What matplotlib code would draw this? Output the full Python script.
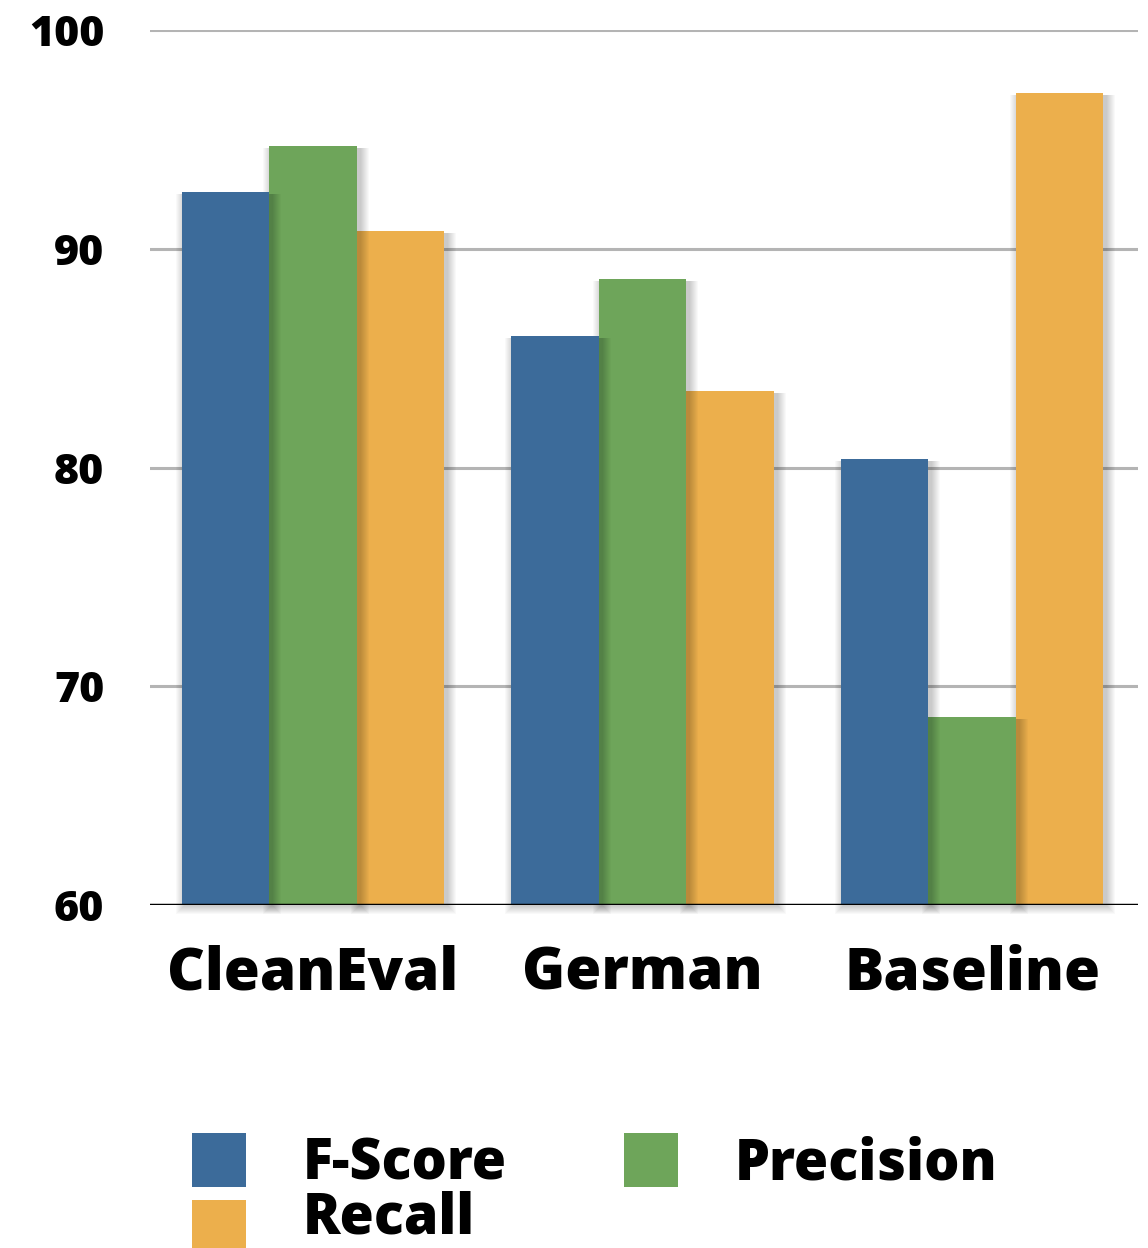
import matplotlib
matplotlib.use("Agg")
import matplotlib.pyplot as plt
from matplotlib.patches import Rectangle
import matplotlib.transforms as mtransforms
import numpy as np

categories = ["CleanEval", "German", "Baseline"]
series_names = ["F-Score", "Precision", "Recall"]
f_score = [92.6, 86.0, 80.4]
precision = [94.7, 88.6, 68.6]
recall = [90.8, 83.5, 97.1]
y_ticks = [60, 70, 80, 90, 100]

colors = ["#3c6b9a", "#6ea55a", "#ecaf4c"]
FONT = ["Open Sans", "DejaVu Sans"]

W, H = 1148, 1248
fig = plt.figure(figsize=(W / 100, H / 100), dpi=100)
ax = fig.add_axes([150 / W, 1 - 905 / H, 988 / W, 875 / H])

ax.set_xlim(-0.494, 2.503)
ax.set_ylim(60, 100)

x = np.arange(len(categories))
width = 0.265
offsets = [-width, 0, width]
values = [f_score, precision, recall]

# pixel -> data scale, used to size the soft drop shadows
px_x = (2.503 + 0.494) / 988
px_y = 40 / 875


def draw_shadow(x0, h, z):
    for s in range(1, 10):
        ax.add_patch(Rectangle(
            (x0 - s * px_x + 3 * px_x, 60 - s * px_y),
            width + 2 * s * px_x, h - 60 + s * px_y - 2 * px_y,
            facecolor="black", edgecolor="none", alpha=0.022,
            zorder=z, clip_on=False))


# draw the last series first so each bar's shadow falls on its right neighbour
z = 3
for i in reversed(range(3)):
    for j, cx in enumerate(x):
        x0 = cx + offsets[i] - width / 2
        h = values[i][j]
        draw_shadow(x0, h, z)
        ax.bar(cx + offsets[i], h - 60, width, bottom=60, color=colors[i],
               linewidth=0, zorder=z + 0.5)
    z += 1

for yv in y_ticks[1:]:
    ax.axhline(yv, color="#b4b4b4", linewidth=2.2, zorder=1)
ax.axhline(60, color="black", linewidth=2.5, zorder=10)

for s in ax.spines.values():
    s.set_visible(False)
ax.set_xticks([])
ax.set_yticks(y_ticks)
ax.set_yticklabels([str(v) for v in y_ticks], fontsize=31, fontweight="heavy",
                   family=FONT)
ax.tick_params(axis="y", length=0, pad=33)

label_tr = mtransforms.blended_transform_factory(ax.transData, fig.transFigure)
for cx, name in zip(x, categories):
    ax.text(cx, 1 - 974 / H, name, transform=label_tr,
            ha="center", va="center", fontsize=42, fontweight="heavy",
            family=FONT)

# legend: square x, square y, text x, text baseline y, series index
legend_items = [(192, 1133, 303, 1180, 0), (624, 1133, 735, 1180, 1),
                (192, 1200, 303, 1234, 2)]
for sx, sy, tx, ty, k in legend_items:
    fig.add_artist(Rectangle((sx / W, 1 - (sy + 54) / H), 54 / W, 54 / H,
                             facecolor=colors[k], edgecolor="none",
                             transform=fig.transFigure))
    fig.text(tx / W, 1 - ty / H, series_names[k], ha="left",
             va="baseline", fontsize=40, fontweight="heavy", family=FONT)

fig.savefig("out.png", dpi=100)
